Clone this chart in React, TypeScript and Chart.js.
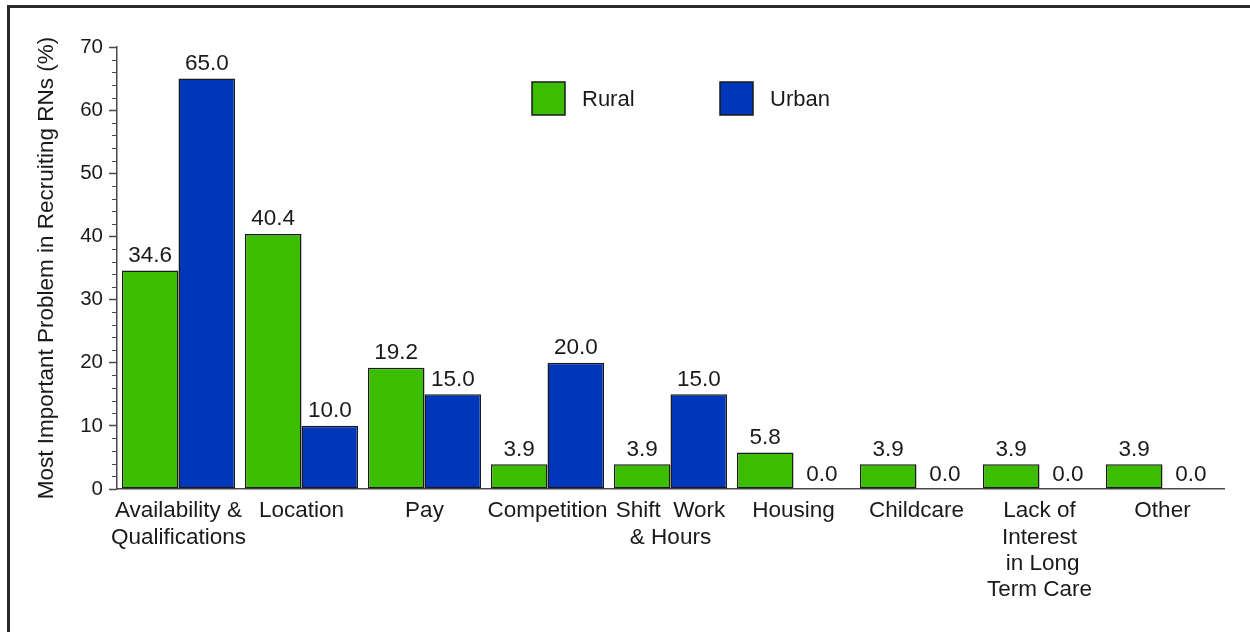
import React, { useEffect, useRef } from "react";
import { Chart, registerables } from "chart.js";

Chart.register(...registerables);

// ---- data ----
const categories: (string | string[])[] = [
  ["Availability &", "Qualifications"],
  "Location",
  "Pay",
  "Competition",
  ["Shift  Work", "& Hours"],
  "Housing",
  "Childcare",
  ["Lack of", "Interest", " in Long", "Term Care"],
  "Other",
];
const seriesNames = ["Rural", "Urban"];
const ruralValues = [34.6, 40.4, 19.2, 3.9, 3.9, 5.8, 3.9, 3.9, 3.9];
const urbanValues = [65.0, 10.0, 15.0, 20.0, 15.0, 0.0, 0.0, 0.0, 0.0];
const yMin = 0;
const yMax = 70;
const yMajorStep = 10;
const yMinorStep = 2;
const yTitle = "Most Important Problem in Recruiting RNs (%)";

// ---- styles ----
const FONT = "'Liberation Sans', Arial, Helvetica, sans-serif";
const TEXT = "#1a1a1a";
const AXIS = "#4a4a4a";
const GREEN = "#3dbd00";
const BLUE = "#0036b9";
const EDGE = "#1a1a1a";

const dataLabelPlugin = {
  id: "dataLabels",
  afterDatasetsDraw(chart: any) {
    const ctx = chart.ctx;
    ctx.save();
    ctx.font = `22.5px ${FONT}`;
    ctx.fillStyle = TEXT;
    ctx.textAlign = "center";
    ctx.textBaseline = "alphabetic";
    chart.data.datasets.forEach((ds: any, i: number) => {
      const meta = chart.getDatasetMeta(i);
      meta.data.forEach((el: any, j: number) => {
        const v = ds.data[j] as number;
        ctx.fillText(v.toFixed(1), el.x, el.y - 8.5);
      });
    });
    ctx.restore();
  },
};

const minorTickPlugin = {
  id: "minorTicks",
  afterDraw(chart: any) {
    const y = chart.scales.y;
    const ctx = chart.ctx;
    ctx.save();
    ctx.strokeStyle = AXIS;
    ctx.lineWidth = 1;
    const x0 = y.right;
    for (let v = y.min; v <= y.max + 1e-9; v += yMinorStep) {
      if (Math.abs(v % yMajorStep) < 1e-9) continue;
      const py = Math.round(y.getPixelForValue(v)) + 0.5;
      ctx.beginPath();
      ctx.moveTo(x0 - 5, py);
      ctx.lineTo(x0, py);
      ctx.stroke();
    }
    ctx.restore();
  },
};

const legendPlugin = {
  id: "customLegend",
  afterDraw(chart: any) {
    const ctx = chart.ctx;
    const starts = [532, 720];
    const boxTop = 82;
    const box = 33;
    ctx.save();
    ctx.font = `22px ${FONT}`;
    ctx.textAlign = "left";
    ctx.textBaseline = "middle";
    chart.data.datasets.forEach((ds: any, i: number) => {
      const x = starts[i];
      ctx.fillStyle = ds.backgroundColor;
      ctx.fillRect(x, boxTop, box, box);
      ctx.strokeStyle = EDGE;
      ctx.lineWidth = 1.5;
      ctx.strokeRect(x, boxTop, box, box);
      ctx.fillStyle = TEXT;
      ctx.fillText(ds.label, x + box + 17, boxTop + box / 2 + 1);
    });
    ctx.restore();
  },
};

export default function App() {
  const canvasRef = useRef<HTMLCanvasElement | null>(null);

  useEffect(() => {
    if (!canvasRef.current) return;
    const chart = new Chart(canvasRef.current, {
      type: "bar",
      data: {
        labels: categories as any,
        datasets: [
          {
            label: seriesNames[0],
            data: ruralValues,
            backgroundColor: GREEN,
            borderColor: EDGE,
            borderWidth: 1.5,
            borderSkipped: false,
            categoryPercentage: 0.92,
            barPercentage: 1.0,
          },
          {
            label: seriesNames[1],
            data: urbanValues,
            backgroundColor: BLUE,
            borderColor: EDGE,
            borderWidth: 1.5,
            borderSkipped: false,
            categoryPercentage: 0.92,
            barPercentage: 1.0,
          },
        ],
      },
      options: {
        responsive: false,
        animation: false,
        events: [],
        layout: { padding: { top: 47, right: 26, left: 0, bottom: 0 } },
        plugins: {
          legend: { display: false },
          tooltip: { enabled: false },
          title: { display: false },
        },
        scales: {
          x: {
            grid: { display: false },
            border: { display: true, color: AXIS, width: 1.5 },
            ticks: {
              autoSkip: false,
              maxRotation: 0,
              minRotation: 0,
              padding: 1,
              color: TEXT,
              font: { family: FONT, size: 22.5, lineHeight: 1.17 },
            },
            afterFit: (s: any) => {
              s.height = 143;
            },
          },
          y: {
            min: yMin,
            max: yMax,
            grid: {
              drawOnChartArea: false,
              drawTicks: true,
              tickLength: 8,
              tickColor: AXIS,
              tickWidth: 1.5,
            },
            border: { display: true, color: AXIS, width: 1.5 },
            ticks: {
              stepSize: yMajorStep,
              padding: 6,
              color: TEXT,
              font: { family: FONT, size: 20.5 },
            },
            title: {
              display: true,
              text: yTitle,
              color: TEXT,
              font: { family: FONT, size: 22.5 },
              padding: { top: 33, bottom: 0 },
            },
            afterFit: (s: any) => {
              s.width = 117;
            },
          },
        },
      },
      plugins: [dataLabelPlugin, minorTickPlugin, legendPlugin],
    });
    return () => chart.destroy();
  }, []);

  return (
    <div
      style={{
        position: "fixed",
        left: 0,
        top: 0,
        width: 1250,
        height: 632,
        background: "#ffffff",
        overflow: "hidden",
      }}
    >
      <canvas
        ref={canvasRef}
        width={1250}
        height={632}
        style={{ position: "absolute", left: 0, top: 0, width: 1250, height: 632 }}
      />
      <div
        style={{
          position: "absolute",
          left: 7,
          top: 5,
          width: 1300,
          height: 700,
          borderTop: "3px solid #2a2a2a",
          borderLeft: "3px solid #2a2a2a",
          pointerEvents: "none",
        }}
      />
    </div>
  );
}
